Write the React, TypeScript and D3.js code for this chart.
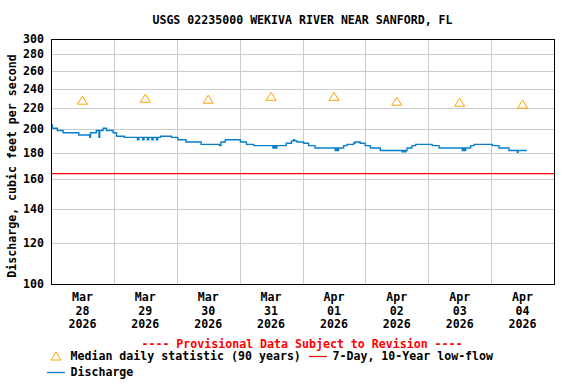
import React from 'react';
import * as d3 from 'd3';

const titleText = 'USGS 02235000 WEKIVA RIVER NEAR SANFORD, FL';
const yLabel = 'Discharge, cubic feet per second';
const yTicks = [100, 120, 140, 160, 180, 200, 220, 240, 260, 280, 300];
const dayMonths = ['Mar', 'Mar', 'Mar', 'Mar', 'Apr', 'Apr', 'Apr', 'Apr'];
const dayNums = ['28', '29', '30', '31', '01', '02', '03', '04'];
const dayYears = ['2026', '2026', '2026', '2026', '2026', '2026', '2026', '2026'];

// median daily statistic, one per day (plotted at noon)
const medianValues = [228, 230, 229, 232, 232, 227, 226, 224];
const lowFlowValue = 164;

// discharge step changes: hours since Mar 28 00:00, cfs
const flowHours = [
  0, 0.5, 2.4, 4.6, 10.6, 14.8, 15.1, 17.3, 18.3, 18.6, 19.9, 21.2, 23.7, 25.0, 28.0,
  33.0, 33.5, 35.0, 35.5, 36.8, 37.3, 38.5, 39.0, 40.2, 40.7, 41.8, 46.0, 48.4, 51.5,
  57.3, 64.3, 64.9, 66.5, 72.3, 74.6, 77.4, 84.7, 85.2, 85.7, 86.2, 89.8, 91.8, 92.6,
  93.0, 93.9, 96.4, 98.3, 100.8, 108.5, 109.0, 109.3, 109.8, 111.7, 113.0, 115.5, 116.0,
  118.0, 119.9, 121.9, 125.7, 134.0, 134.5, 135.0, 135.5, 135.9, 137.8, 139.2, 145.5,
  148.1, 157.0, 157.5, 157.8, 158.3, 160.2, 161.5, 168.5, 171.0, 174.8, 178.0, 178.3, 181.6,
];
const flowValues = [
  204, 201, 199, 197, 195, 193, 197, 199, 193, 199, 201, 199, 197, 194, 193,
  191, 193, 191, 193, 191, 193, 191, 193, 191, 193, 194, 193, 191, 189,
  187, 186, 189, 191, 189, 187, 186, 184, 186, 184, 186, 188, 190, 191,
  190, 189, 188, 186, 184, 182, 184, 182, 184, 186, 187, 188, 189,
  188, 186, 184, 182, 181, 182, 181, 182, 184, 186, 187, 186,
  184, 182, 184, 182, 184, 186, 187, 186, 184, 182, 180.5, 182, 182,
];

const font = '"DejaVu Sans Mono", monospace';
const blue = '#0a7fc9';
const orange = '#ffa200';

export default function App() {
  const W = 576, H = 384;
  const left = 51, right = 554, top = 39, bottom = 284;
  const start = new Date(2026, 2, 28);
  const end = d3.timeDay.offset(start, 8);
  const x = d3.scaleTime().domain([start, end]).range([left, right]);
  const y = d3.scaleLog().domain([100, 300]).range([bottom, top]);
  const at = (h: number) => new Date(start.getTime() + h * 3600e3);

  const days = d3.timeDay.range(start, end);
  const noon = days.map(d => d3.timeHour.offset(d, 12));
  const midnights = d3.timeDay.range(d3.timeDay.offset(start, 1), end);

  const pts = flowHours.map((h, i) => [at(h), flowValues[i]] as [Date, number]);
  const flowPath = d3.line<[Date, number]>()
    .x(d => x(d[0]))
    .y(d => y(d[1]))
    .curve(d3.curveStepAfter)(pts) || '';

  const tri = (cx: number, cy: number) =>
    `M${cx - 5},${cy + 4}L${cx},${cy - 4}L${cx + 5},${cy + 4}Z`;

  const txt = { fontFamily: font, fontWeight: 'bold' as const, fontSize: 11.6 };

  return (
    <svg width={W} height={H} style={{ position: 'absolute', left: 0, top: 0, background: '#fff' }}>
      <rect width={W} height={H} fill="#fff" />
      <text x={(left + right) / 2} y={24} textAnchor="middle" {...txt}>{titleText}</text>

      {yTicks.map(t => (
        <line key={'gy' + t} x1={left} x2={right} y1={Math.round(y(t)) + 0.5} y2={Math.round(y(t)) + 0.5}
          stroke="#cccccc" strokeWidth={1} />
      ))}
      {midnights.map(d => (
        <line key={'gx' + d.getTime()} x1={Math.round(x(d)) + 0.5} x2={Math.round(x(d)) + 0.5} y1={top} y2={bottom}
          stroke="#cccccc" strokeWidth={1} />
      ))}

      <line x1={left} x2={right} y1={y(lowFlowValue)} y2={y(lowFlowValue)} stroke="#ff0000" strokeWidth={1.2} />
      <path d={flowPath} fill="none" stroke={blue} strokeWidth={1.4} />
      {medianValues.map((v, i) => (
        <path key={'m' + i} d={tri(x(noon[i]), y(v))} fill="none" stroke={orange} strokeWidth={1} />
      ))}

      <rect x={left + 0.5} y={top + 0.5} width={right - left} height={bottom - top}
        fill="none" stroke="#000" strokeWidth={1} />

      {yTicks.map(t => (
        <text key={'ty' + t} x={44} y={y(t) + 4} textAnchor="end" {...txt}>{t}</text>
      ))}
      <text transform={`translate(15.5,166) rotate(-90)`} textAnchor="middle" {...txt}>{yLabel}</text>

      {noon.map((d, i) => (
        <g key={'tx' + i} transform={`translate(${x(d)},0)`}>
          <text y={301} textAnchor="middle" {...txt}>{dayMonths[i]}</text>
          <text y={315} textAnchor="middle" {...txt}>{dayNums[i]}</text>
          <text y={328} textAnchor="middle" {...txt}>{dayYears[i]}</text>
        </g>
      ))}

      <text x={302} y={347.5} textAnchor="middle" {...txt} fill="#ff0000">
        ---- Provisional Data Subject to Revision ----
      </text>
      <path d={tri(56, 356)} fill="none" stroke={orange} strokeWidth={1} />
      <text x={70.5} y={360} {...txt}>Median daily statistic (90 years)</text>
      <line x1={309} x2={327} y1={356.5} y2={356.5} stroke="#ff0000" strokeWidth={1.2} />
      <text x={332.5} y={360} {...txt}>7-Day, 10-Year low-flow</text>
      <line x1={47} x2={65} y1={372.5} y2={372.5} stroke={blue} strokeWidth={1.4} />
      <text x={70.5} y={376} {...txt}>Discharge</text>
    </svg>
  );
}
